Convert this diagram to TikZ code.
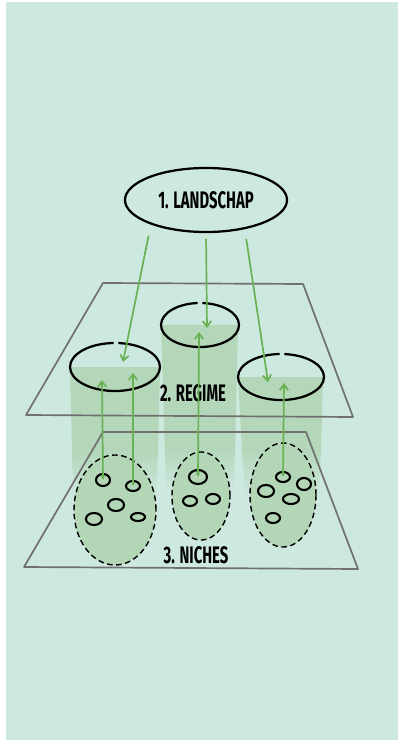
\documentclass[tikz,border=0pt]{standalone}
\usepackage{fontspec}
\newfontfamily\sketchfont[FakeStretch=0.62]{Fira Sans}
\usetikzlibrary{shapes.geometric,arrows.meta}

\definecolor{mint}{RGB}{205,232,223}
\definecolor{leaf}{RGB}{104,178,84}
\definecolor{column}{RGB}{180,215,186}
\definecolor{nichefill}{RGB}{178,214,182}
\definecolor{planegray}{RGB}{112,112,112}

\begin{document}
\begin{tikzpicture}[x=0.025cm, y=-0.025cm,
        regime/.style = {ellipse, draw=black, line width=1.6pt, inner sep=0pt},
        niche/.style = {ellipse, draw=black, line width=1.0pt, dash pattern=on 4pt off 2.5pt, fill=nichefill, inner sep=0pt},
        cell/.style = {ellipse, draw=black, line width=1.5pt, inner sep=0pt},
        levelname/.style = {font=\sketchfont\bfseries\fontsize{17}{20}\selectfont, inner sep=0pt},
        plane/.style = {draw=planegray, line width=1.2pt, line join=round},
        beam/.style = {fill=column},
        beamfade/.style = {top color=column, bottom color=mint},
        downarr/.style = {-{Straight Barb[length=4pt,width=6pt]}, line width=1.2pt, draw=leaf},
        uparr/.style = {{Triangle[length=3pt,width=2.5pt]}-{Straight Barb[length=4pt,width=6pt]}, line width=1.2pt, draw=leaf}
    ]
        % Canvas
        \useasboundingbox (0,0) rectangle (398,740);
        \fill[white] (0,0) rectangle (398,740);
        \fill[mint] (6,2) rectangle (398,740);

        % Light columns below the regime rings
        \fill[beam] (70,367) -- (160,367) -- (158,450) -- (72,450) -- cycle;
        \shade[beamfade] (72,450) -- (158,450) -- (156,500) -- (74,500) -- cycle;
        \fill[beam] (161,325) -- (238,325) -- (235,450) -- (165,450) -- cycle;
        \shade[beamfade] (165,450) -- (235,450) -- (233,490) -- (167,490) -- cycle;
        \fill[beam] (238,377) -- (323,377) -- (321,450) -- (242,450) -- cycle;
        \shade[beamfade] (242,450) -- (321,450) -- (319,495) -- (245,495) -- cycle;

        % Planes
        \draw[plane] (103,283) -- (303,284) -- (353,417) -- (26,415) -- cycle;
        \draw[plane] (103,432) -- (306,432) -- (358,569) -- (24,567) -- cycle;

        % Bottom: niches with their cells
        \node[niche, minimum width=2.05cm, minimum height=2.75cm] (niche1) at (115,510) {};
        \node[niche, minimum width=1.45cm, minimum height=2.2cm] (niche2) at (201,496) {};
        \node[niche, minimum width=1.65cm, minimum height=2.6cm] (niche3) at (283,495) {};

        \node[cell, minimum width=0.35cm, minimum height=0.30cm] (c11) at (103,480) {};
        \node[cell, minimum width=0.35cm, minimum height=0.25cm] (c12) at (133,486) {};
        \node[cell, minimum width=0.40cm, minimum height=0.30cm] (c13) at (116,505) {};
        \node[cell, minimum width=0.40cm, minimum height=0.30cm] (c14) at (94,519) {};
        \node[cell, minimum width=0.35cm, minimum height=0.20cm] (c15) at (138,517) {};

        \node[cell, minimum width=0.45cm, minimum height=0.35cm] (c21) at (198,477) {};
        \node[cell, minimum width=0.35cm, minimum height=0.25cm] (c22) at (190,501) {};
        \node[cell, minimum width=0.35cm, minimum height=0.25cm] (c23) at (213,499) {};

        \node[cell, minimum width=0.35cm, minimum height=0.25cm] (c31) at (283,477) {};
        \node[cell, minimum width=0.35cm, minimum height=0.30cm] (c32) at (304,484) {};
        \node[cell, minimum width=0.40cm, minimum height=0.30cm] (c33) at (266,491) {};
        \node[cell, minimum width=0.40cm, minimum height=0.25cm] (c34) at (291,499) {};
        \node[cell, minimum width=0.35cm, minimum height=0.25cm] (c35) at (273,518) {};

        % Middle: regime rings (small gap on top)
        \node[regime, minimum width=2.25cm, minimum height=1.2cm, dash pattern=on 1.30cm off 0.12cm on 20cm] (reg1) at (115,367) {};
        \node[regime, minimum width=1.95cm, minimum height=1.1cm, dash pattern=on 1.16cm off 0.12cm on 20cm] (reg2) at (200,325) {};
        \node[regime, minimum width=2.15cm, minimum height=1.15cm, dash pattern=on 1.24cm off 0.12cm on 20cm] (reg3) at (281,377) {};

        % Top: landscape
        \node[regime, minimum width=4.05cm, minimum height=1.6cm, levelname] (land) at (206,200) {1. LANDSCHAP};

        % Level names
        \node[levelname] (regtxt) at (193,393) {2. REGIME};
        \node[levelname] (nichetxt) at (196,555) {3. NICHES};

        % Arrow ends inside the rings
        \coordinate (in1) at (123,362);
        \coordinate (in2) at (207,328);
        \coordinate (in3) at (268,382);
        \coordinate (out1) at (102,380);
        \coordinate (out2) at (133,373);
        \coordinate (out3) at (199,332);
        \coordinate (out4) at (284,383);

        % Landscape pressure downwards
        \draw[downarr, shorten <=8pt] (land.204) -- (in1);
        \draw[downarr, shorten <=4pt] (land.south) -- (in2);
        \draw[downarr, shorten <=7pt] (land.323) -- (in3);

        % Niche innovations upwards
        \draw[uparr] (c11.center) -- (out1);
        \draw[uparr] (c12.center) -- (out2);
        \draw[uparr] (c21.center) -- (out3);
        \draw[uparr] (c31.center) -- (out4);

    \end{tikzpicture}
\end{document}
